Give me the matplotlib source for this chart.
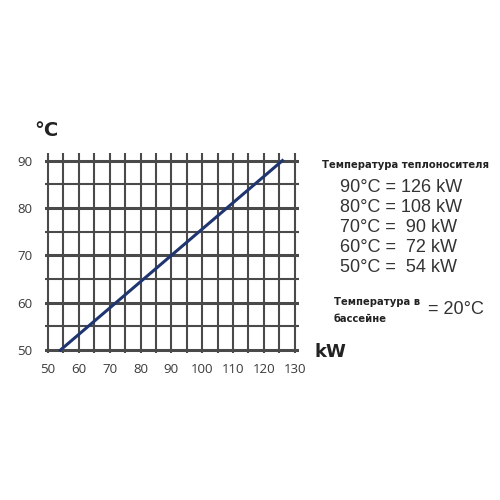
import matplotlib.pyplot as plt
import numpy as np

# данные графика
power_kw = [54, 126]
temp_c = [50, 90]
x_ticks = [50, 60, 70, 80, 90, 100, 110, 120, 130]
y_ticks = [50, 60, 70, 80, 90]
table_lines = ["90°C = 126 kW", "80°C = 108 kW", "70°C =  90 kW",
               "60°C =  72 kW", "50°C =  54 kW"]

plt.rcParams['font.family'] = ['Open Sans', 'DejaVu Sans']

fig = plt.figure(figsize=(5, 5), dpi=100)
ax = fig.add_axes([0.0898, 0.294, 0.509, 0.4])
ax.set_xlim(49, 131.5)
ax.set_ylim(49.4, 91.6)

grid_col = "#4a4a4a"
for x in np.arange(50, 131, 5):
    ax.axvline(x, color=grid_col, lw=1.5, zorder=1)
for y in np.arange(50, 91, 5):
    lw = 2.2 if y % 10 == 0 else 1.5
    ax.axhline(y, color=grid_col, lw=lw, zorder=1)

ax.plot(power_kw, temp_c, color="#1f3570", lw=2.2, zorder=3)

for s in ax.spines.values():
    s.set_visible(False)
ax.set_xticks(x_ticks)
ax.set_yticks(y_ticks)
ax.tick_params(length=0, labelsize=9.5, labelcolor="#3a3a3a")
ax.tick_params(axis="x", pad=7)
ax.tick_params(axis="y", pad=9)

bold = dict(fontweight="bold", color="#222222", va="center", family="DejaVu Sans")
fig.text(0.068, 0.74, "°C", fontsize=14, **bold)
fig.text(0.63, 0.296, "kW", fontsize=13, **bold)

fig.text(0.643, 0.67, "Температура теплоносителя", fontsize=7.2, **bold)
for i, t in enumerate(table_lines):
    fig.text(0.679, 0.624 - i * 0.04, t, fontsize=13, color="#333333", va="center",
             family="Liberation Sans")
fig.text(0.668, 0.379, "Температура в\nбассейне", fontsize=7.2, linespacing=1.8, **bold)
fig.text(0.855, 0.38, "= 20°C", fontsize=13, color="#333333", va="center",
         family="Liberation Sans")

fig.savefig("out.png", dpi=100, facecolor="white")
